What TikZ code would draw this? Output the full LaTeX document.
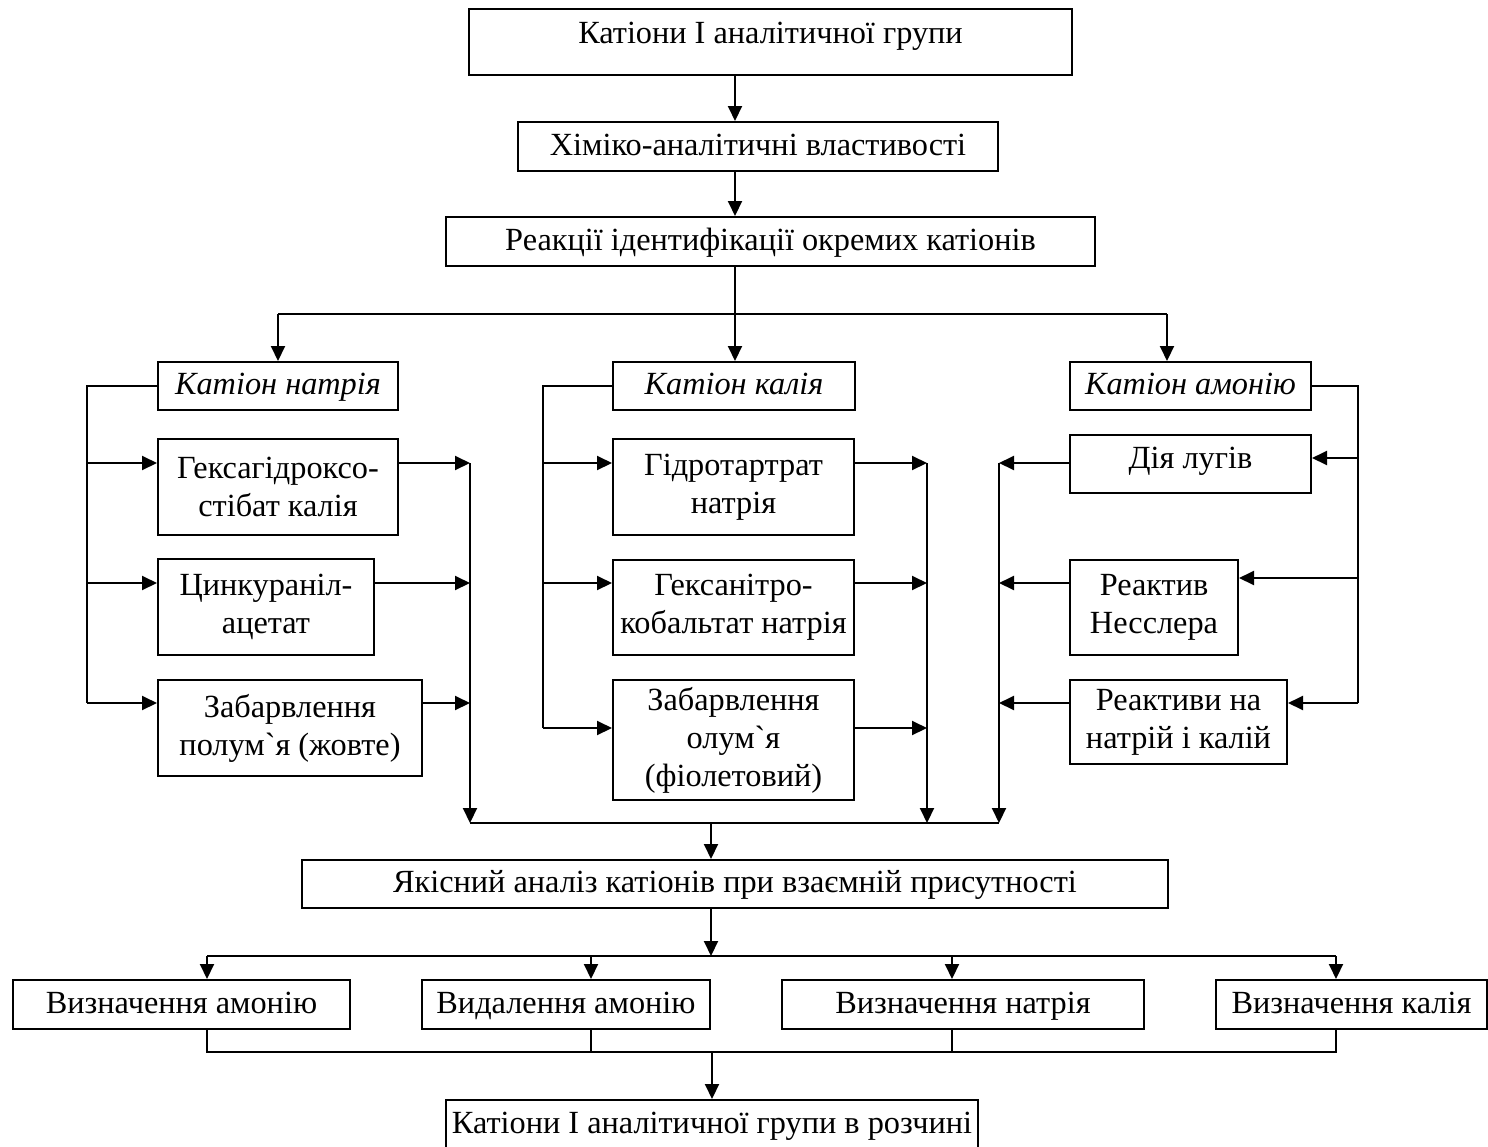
\documentclass[tikz,border=0pt]{standalone}
\usepackage{fontspec}
\setmainfont{Liberation Serif}[Ligatures=TeXOff]
\usetikzlibrary{arrows.meta}
\begin{document}
\begin{tikzpicture}[x=1pt,y=-1pt,line width=2pt,
  box/.style={draw,line width=2pt,inner sep=0pt,align=center,font=\fontsize{32.3}{38}\selectfont},
  one/.style={text height=23pt,text depth=6pt},
  arr/.style={-{Triangle[length=15pt,width=14pt]}}]
\useasboundingbox (0,0) rectangle (1488,1146);
% nodes
\node[box,text height=23pt,text depth=21pt,minimum width=603pt,minimum height=66pt] (top) at (770.5,42) {Катіони І аналітичної групи};
\node[box,one,minimum width=480pt,minimum height=49pt] (chem) at (758,146.5) {Хіміко-аналітичні властивості};
\node[box,one,minimum width=649pt,minimum height=49pt] (react) at (770.5,241.5) {Реакції ідентифікації окремих катіонів};
\node[box,one,minimum width=240pt,minimum height=48pt] (na) at (278,386) {\itshape Катіон натрія};
\node[box,one,minimum width=242pt,minimum height=48pt] (k) at (734,386) {\itshape Катіон калія};
\node[box,one,minimum width=241pt,minimum height=48pt] (nh) at (1190.5,386) {\itshape Катіон амонію};
\node[box,minimum width=240pt,minimum height=96pt] (na1) at (278,487) {Гексагідроксо-\\стібат калія};
\node[box,minimum width=216pt,minimum height=96pt] (na2) at (266,607) {Цинкураніл-\\ацетат};
\node[box,minimum width=264pt,minimum height=96pt] (na3) at (290,728) {Забарвлення\\полум`я (жовте)};
\node[box,minimum width=241pt,minimum height=96pt] (k1) at (733.5,487) {Гідротартрат\\натрія};
\node[box,minimum width=241pt,minimum height=95pt] (k2) at (733.5,607.5) {Гексанітро-\\кобальтат натрія};
\node[box,minimum width=241pt,minimum height=120pt] (k3) at (733.5,740) {Забарвлення\\олум`я\\(фіолетовий)};
\node[box,text height=23pt,text depth=15pt,minimum width=241pt,minimum height=58pt] (a1) at (1190.5,464) {Дія лугів};
\node[box,minimum width=168pt,minimum height=95pt] (a2) at (1154,607.5) {Реактив\\Несслера};
\node[box,minimum width=217pt,minimum height=84pt] (a3) at (1178.5,722) {Реактиви на\\натрій і калій};
\node[box,one,minimum width=866pt,minimum height=48pt] (qa) at (735,884) {Якісний аналіз катіонів при взаємній присутності};
\node[box,one,minimum width=337pt,minimum height=49pt] (d1) at (181.5,1004.5) {Визначення амонію};
\node[box,one,minimum width=288pt,minimum height=49pt] (d2) at (566,1004.5) {Видалення амонію};
\node[box,one,minimum width=362pt,minimum height=49pt] (d3) at (963,1004.5) {Визначення натрія};
\node[box,one,minimum width=271pt,minimum height=49pt] (d4) at (1351.5,1004.5) {Визначення калія};
\node[box,one,minimum width=532pt,minimum height=50pt] (fin) at (712,1125) {Катіони І аналітичної групи в розчині};
% helper coordinates
\coordinate (sp) at (735,0);
\coordinate (xa) at (1167,0);
\coordinate (ybr) at (0,314);
\coordinate (lx) at (87,0);
\coordinate (rx1) at (470,0);
\coordinate (mx) at (543,0);
\coordinate (rx2) at (927,0);
\coordinate (lx3) at (999,0);
\coordinate (rx3) at (1358,0);
\coordinate (y1) at (0,463);
\coordinate (y1i) at (0,458);
\coordinate (y2) at (0,583);
\coordinate (y2i) at (0,578);
\coordinate (y3) at (0,703);
\coordinate (y3k) at (0,728);
\coordinate (ybus) at (0,823);
\coordinate (bx) at (711,0);
\coordinate (ydb) at (0,956);
\coordinate (ydc) at (0,1052);
\coordinate (c1) at (207,0);
\coordinate (c2) at (591,0);
\coordinate (c3) at (952,0);
\coordinate (c4) at (1336,0);
% spine
\draw[arr] (top.south -| sp) -- (chem.north -| sp);
\draw[arr] (chem.south -| sp) -- (react.north -| sp);
\draw (react.south -| sp) -- (sp |- ybr);
\draw (na.north |- ybr) -- (xa |- ybr);
\draw[arr] (na.north |- ybr) -- (na.north);
\draw[arr] (sp |- ybr) -- (k.north -| sp);
\draw[arr] (xa |- ybr) -- (nh.north -| xa);
% sodium group
\draw (na.west) -| (lx |- y3);
\draw[arr] (lx |- y1) -- (na1.west |- y1);
\draw[arr] (lx |- y2) -- (na2.west |- y2);
\draw[arr] (lx |- y3) -- (na3.west |- y3);
\draw[arr] (na1.east |- y1) -- (rx1 |- y1);
\draw[arr] (na2.east |- y2) -- (rx1 |- y2);
\draw[arr] (na3.east |- y3) -- (rx1 |- y3);
\draw[arr] (rx1 |- y1) -- (rx1 |- ybus);
% potassium group
\draw (k.west) -| (mx |- y3k);
\draw[arr] (mx |- y1) -- (k1.west |- y1);
\draw[arr] (mx |- y2) -- (k2.west |- y2);
\draw[arr] (mx |- y3k) -- (k3.west |- y3k);
\draw[arr] (k1.east |- y1) -- (rx2 |- y1);
\draw[arr] (k2.east |- y2) -- (rx2 |- y2);
\draw[arr] (k3.east |- y3k) -- (rx2 |- y3k);
\draw[arr] (rx2 |- y1) -- (rx2 |- ybus);
% ammonium group
\draw (nh.east) -| (rx3 |- y3);
\draw[arr] (rx3 |- y1i) -- (a1.east |- y1i);
\draw[arr] (rx3 |- y2i) -- (a2.east |- y2i);
\draw[arr] (rx3 |- y3) -- (a3.east |- y3);
\draw[arr] (a1.west |- y1) -- (lx3 |- y1);
\draw[arr] (a2.west |- y2) -- (lx3 |- y2);
\draw[arr] (a3.west |- y3) -- (lx3 |- y3);
\draw[arr] (lx3 |- y1) -- (lx3 |- ybus);
% collecting bus
\draw (rx1 |- ybus) -- (lx3 |- ybus);
\draw[arr] (bx |- ybus) -- (qa.north -| bx);
\draw[arr] (qa.south -| bx) -- (bx |- ydb);
\draw (c1 |- ydb) -- (c4 |- ydb);
\draw[arr] (c1 |- ydb) -- (d1.north -| c1);
\draw[arr] (c2 |- ydb) -- (d2.north -| c2);
\draw[arr] (c3 |- ydb) -- (d3.north -| c3);
\draw[arr] (c4 |- ydb) -- (d4.north -| c4);
\draw (d1.south -| c1) -- (c1 |- ydc) -- (c4 |- ydc) -- (d4.south -| c4);
\draw (d2.south -| c2) -- (c2 |- ydc);
\draw (d3.south -| c3) -- (c3 |- ydc);
\draw[arr] (fin.north |- ydc) -- (fin.north);
\end{tikzpicture}
\end{document}
